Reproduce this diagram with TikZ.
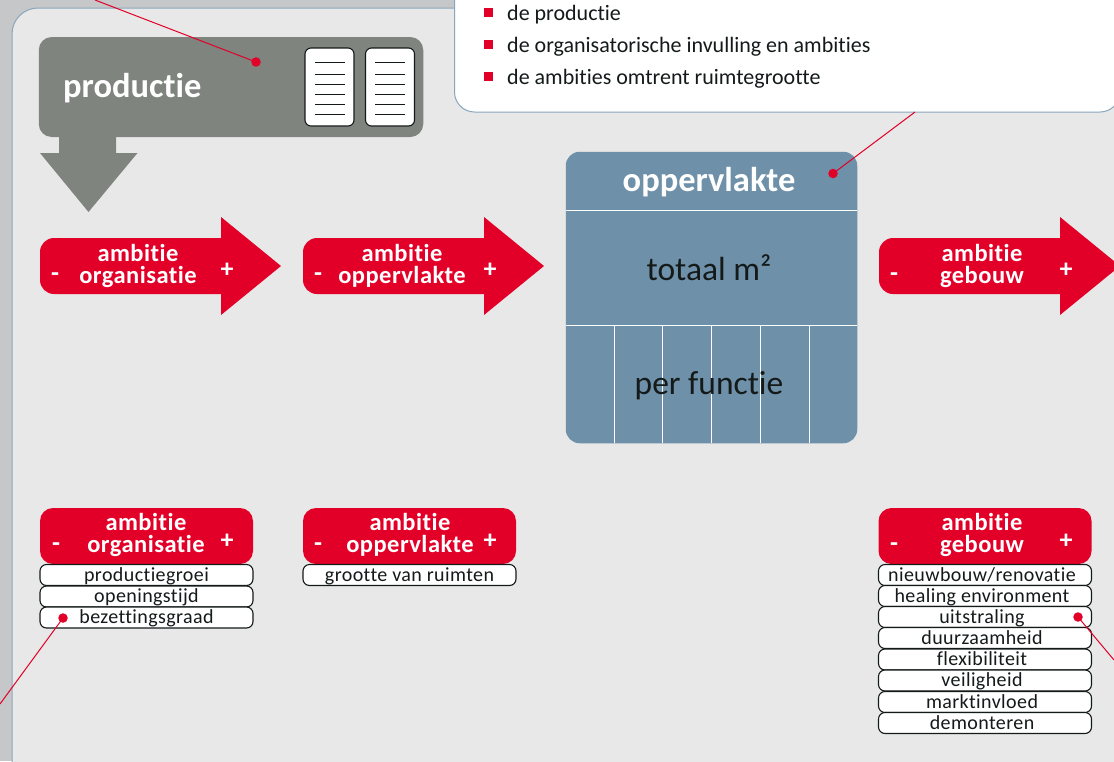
\documentclass[tikz,border=0pt]{standalone}
\usepackage{fontspec}
\setmainfont[Ligatures=NoCommon,RawFeature={-liga;-clig;-dlig}]{Carlito}
\definecolor{outer}{HTML}{C5C7C9}
\definecolor{panel}{HTML}{E8E8E8}
\definecolor{edgeblue}{HTML}{8AA6BC}
\definecolor{redc}{HTML}{E30028}
\definecolor{grayc}{HTML}{7F847E}
\definecolor{bluec}{HTML}{6E90A8}
\definecolor{ink}{HTML}{141A1A}
\tikzset{
  x=1pt,y=-1pt,
  panelbox/.style={draw=edgeblue,line width=1pt,fill=panel,rounded corners=26pt},
  callout/.style={draw=edgeblue,line width=1pt,fill=white,rounded corners=20pt},
  grayblock/.style={fill=grayc,rounded corners=13pt},
  bluefill/.style={fill=bluec,rounded corners=14pt},
  divider/.style={draw=white,line width=1pt},
  sheet/.style={draw=ink,line width=1.1pt,fill=white,rounded corners=6pt,minimum width=49pt,minimum height=78pt,inner sep=0pt},
  rule/.style={draw=ink,line width=.7pt},
  redbody/.style={fill=redc},
  head/.style={fill=redc,rounded corners=13pt,minimum width=213pt,minimum height=56pt,inner sep=0pt},
  rowbox/.style={draw=ink,line width=1.1pt,fill=white,rounded corners=6.5pt,minimum width=213pt,minimum height=21pt,inner sep=0pt,
     text height=16.5pt,text depth=4pt,font=\fontsize{20}{20}\selectfont\addfontfeatures{LetterSpace=2},text=ink},
  redtxt/.style={anchor=base,text=white,inner sep=0pt,font=\fontsize{24.5}{24.5}\selectfont\bfseries\addfontfeatures{LetterSpace=2}},
  signtxt/.style={anchor=center,text=white,inner sep=0pt,font=\fontsize{26}{26}\selectfont\bfseries},
  bullet/.style={fill=redc,minimum size=9pt,inner sep=0pt},
  listtxt/.style={anchor=base west,inner sep=0pt,text=ink,font=\fontsize{22}{22}\selectfont},
  bigwhite/.style={anchor=base,inner sep=0pt,text=white,font=\fontsize{34.5}{34.5}\selectfont\bfseries},
  bigdark/.style={anchor=base,inner sep=0pt,text=ink,font=\fontsize{33.5}{33.5}\selectfont},
  leader/.style={draw=redc,line width=1pt},
  dot/.style={circle,fill=redc,minimum size=9.5pt,inner sep=0pt},
}
\newcommand{\redarrow}[1]{%
  \path[redbody] (#1+14,238) arc[start angle=90,end angle=180,radius=14pt]
    -- (#1,280) arc[start angle=180,end angle=270,radius=14pt]
    -- (#1+181,294) -- (#1+181,315) -- (#1+241,266) -- (#1+181,217) -- (#1+181,238) -- cycle;}
\begin{document}
\begin{tikzpicture}
\useasboundingbox (0,0) rectangle (1114,761);
\fill[outer] (0,0) rectangle (1114,761);
\path[panelbox] (12,8) rectangle (1150,790);
\path[callout] (454.5,-40) rectangle (1120,112);

% free ends of the leaders
\coordinate (endA) at (95,0);
\coordinate (endB) at (915,112);
\coordinate (endC) at (0,704);
\coordinate (endD) at (1114,660);

% production block
\path[fill=grayc] (59,130) -- (116,130) -- (116,153) -- (137.5,153) -- (88.5,212) -- (40,153) -- (59,153) -- cycle;
\node[grayblock,minimum width=384.5pt,minimum height=100pt,inner sep=0pt] (prod) at (231,87) {};
\node[anchor=base west,inner sep=0pt,text=white,font=\fontsize{34.5}{34.5}\selectfont\bfseries] (prodt) at (63,97) {productie};
\node[sheet] (s1) at (329.5,87) {};
\node[sheet] (s2) at (390,87) {};
\foreach \yy in {62.5,74,84,94,104,114}{
  \draw[rule] (315,\yy) -- (345,\yy);
  \draw[rule] (375,\yy) -- (405,\yy);
}

% arrows
\redarrow{40}
\redarrow{303}
\redarrow{879}
\node[redtxt] (a1) at (138,261) {ambitie};
\node[redtxt] (a2) at (138,283) {organisatie};
\node[signtxt] (a3) at (55,277) {-};
\node[signtxt] (a4) at (227,270.5) {+};
\node[redtxt] (b1) at (402,261) {ambitie};
\node[redtxt] (b2) at (402,283) {oppervlakte};
\node[signtxt] (b3) at (318,277) {-};
\node[signtxt] (b4) at (490,270.5) {+};
\node[redtxt] (c1) at (982,261) {ambitie};
\node[redtxt] (c2) at (982,283) {gebouw};
\node[signtxt] (c3) at (894,277) {-};
\node[signtxt] (c4) at (1066,270.5) {+};

% surface block
\node[bluefill,minimum width=291.5pt,minimum height=291.5pt,inner sep=0pt] (opp) at (711.5,297.5) {};
\draw[divider] (566,210) -- (857,210);
\draw[divider] (566,325) -- (857,325);
\foreach \xx in {614,662.5,711,760,809}{ \draw[divider] (\xx,325) -- (\xx,443); }
\node[bigwhite] (oppt) at (709,191) {oppervlakte};
\node[bigdark] (tot) at (709,280) {totaal m²};
\node[bigdark] (per) at (709,394) {per functie};

% legends
\node[head] (h1) at (146.5,536) {};
\node[redtxt] at (146,530) {ambitie};
\node[redtxt] at (146,552) {organisatie};
\node[signtxt] at (56,547) {-};
\node[signtxt] at (227,541) {+};
\node[rowbox] (r11) at (146.5,575) {productiegroei};
\node[rowbox] (r12) at (146.5,596.5) {openingstijd};
\node[rowbox] (r13) at (146.5,617.5) {bezettingsgraad};

\node[head] (h2) at (409.5,536) {};
\node[redtxt] at (410,530) {ambitie};
\node[redtxt] at (410,552) {oppervlakte};
\node[signtxt] at (318,547) {-};
\node[signtxt] at (490,541) {+};
\node[rowbox] (r21) at (409.5,575) {grootte van ruimten};

\node[head] (h3) at (985,536) {};
\node[redtxt] at (982,530) {ambitie};
\node[redtxt] at (982,552) {gebouw};
\node[signtxt] at (894,547) {-};
\node[signtxt] at (1066,541) {+};
\node[rowbox] (r31) at (985,575) {\kern-6pt nieuwbouw/renovatie};
\node[rowbox] (r32) at (985,596) {\kern-6pt healing environment};
\node[rowbox] (r33) at (985,617) {\kern-6pt uitstraling};
\node[rowbox] (r34) at (985,638) {\kern-6pt duurzaamheid};
\node[rowbox] (r35) at (985,659.5) {\kern-6pt flexibiliteit};
\node[rowbox] (r36) at (985,680.5) {\kern-6pt veiligheid};
\node[rowbox] (r37) at (985,702) {\kern-6pt marktinvloed};
\node[rowbox] (r38) at (985,723) {\kern-6pt demonteren};

% list in the callout
\node[bullet] (l1) at (488.5,12.5) {};
\node[bullet] (l2) at (488.5,44.5) {};
\node[bullet] (l3) at (488.5,76.5) {};
\node[listtxt] at (507,20) {de productie};
\node[listtxt] at (507,52) {de organisatorische invulling en ambities};
\node[listtxt] at (507,84) {de ambities omtrent ruimtegrootte};

% leaders
\node[dot] (dA) at (256,62) {};
\node[dot] (dB) at (833,173.5) {};
\node[dot] (dC) at (63,618) {};
\node[dot] (dD) at (1078,617) {};
\draw[leader] (endA) -- (dA.center);
\draw[leader] (endB) -- (dB.center);
\draw[leader] (endC) -- (dC.center);
\draw[leader] (endD) -- (dD.center);
\end{tikzpicture}
\end{document}
